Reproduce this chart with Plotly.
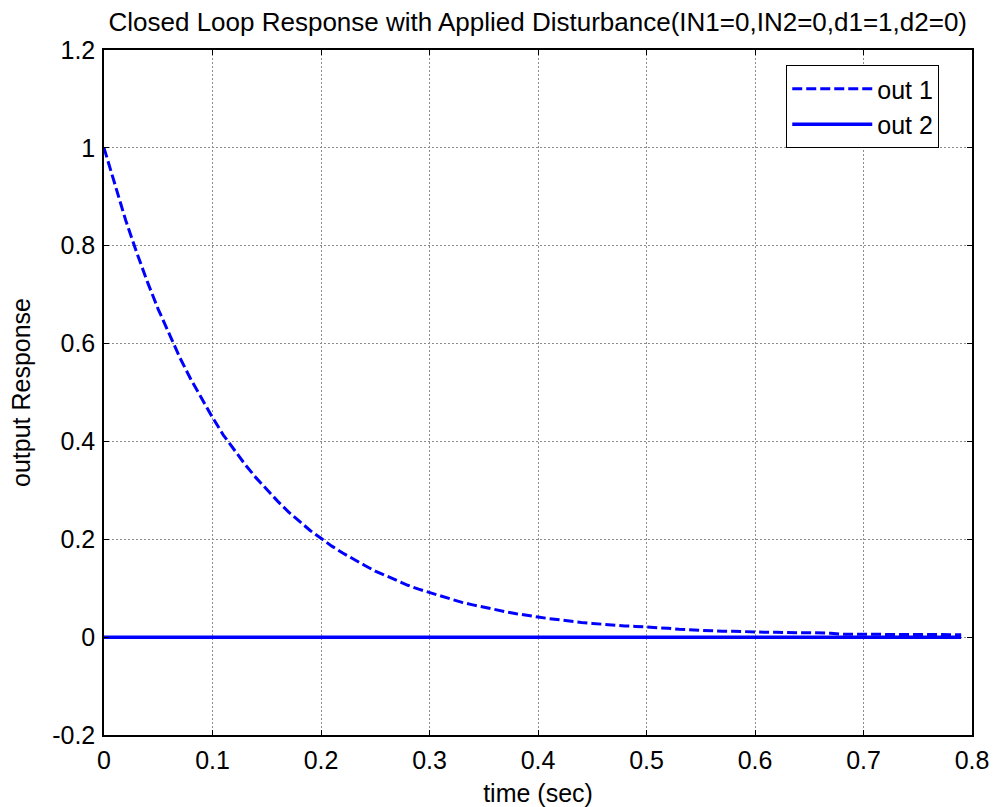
import plotly.graph_objects as go

# Simulation time (s) and closed-loop outputs after a unit disturbance on d1
time_s = [round(0.01 * i, 2) for i in range(80)]
out1 = [
    1.000, 0.925, 0.852, 0.787, 0.726, 0.670, 0.619, 0.571, 0.527, 0.487,
    0.449, 0.413, 0.383, 0.353, 0.326, 0.301, 0.278, 0.256, 0.237, 0.218,
    0.202, 0.186, 0.172, 0.159, 0.147, 0.135, 0.125, 0.115, 0.106, 0.098,
    0.091, 0.084, 0.077, 0.071, 0.066, 0.061, 0.056, 0.052, 0.048, 0.044,
    0.041, 0.038, 0.035, 0.032, 0.030, 0.028, 0.026, 0.024, 0.023, 0.022,
    0.021, 0.020, 0.018, 0.016, 0.015, 0.013, 0.012, 0.012, 0.012, 0.011,
    0.010, 0.010, 0.010, 0.009, 0.009, 0.009, 0.009, 0.008, 0.006, 0.006,
    0.006, 0.006, 0.005, 0.005, 0.005, 0.005, 0.005, 0.005, 0.005, 0.005,
]
out2 = [0.0] * len(time_s)

x_ticks = [0, 0.1, 0.2, 0.3, 0.4, 0.5, 0.6, 0.7, 0.8]
x_labels = ["0", "0.1", "0.2", "0.3", "0.4", "0.5", "0.6", "0.7", "0.8"]
y_ticks = [-0.2, 0, 0.2, 0.4, 0.6, 0.8, 1.0, 1.2]
y_labels = ["-0.2", "0", "0.2", "0.4", "0.6", "0.8", "1", "1.2"]

FONT = "Liberation Sans, Arial, sans-serif"
BLUE = "#0000ff"

fig = go.Figure()
fig.add_trace(go.Scatter(
    x=time_s, y=out1, mode="lines", name="out 1",
    line=dict(color=BLUE, width=3, dash="10px,4px"),
))
fig.add_trace(go.Scatter(
    x=time_s, y=out2, mode="lines", name="out 2",
    line=dict(color=BLUE, width=3.5),
))

axis_common = dict(
    showline=True, linecolor="black", linewidth=1.5, mirror="allticks",
    ticks="inside", ticklen=5, tickwidth=1, tickcolor="black",
    showgrid=True, gridcolor="#8c8c8c", gridwidth=1, griddash="2px,2px",
    zeroline=False, automargin=False,
    tickfont=dict(family=FONT, size=25, color="black"),
)

fig.update_xaxes(
    range=[0, 0.8], tickvals=x_ticks, ticktext=x_labels,
    title=dict(text="time (sec)", font=dict(family=FONT, size=25, color="black"), standoff=12),
    ticklabelstandoff=2,
    **axis_common,
)
fig.update_yaxes(
    range=[-0.2, 1.2], tickvals=y_ticks, ticktext=y_labels,
    title=dict(text="output Response", font=dict(family=FONT, size=25, color="black"), standoff=14),
    ticklabelstandoff=2,
    **axis_common,
)

fig.update_layout(
    width=994, height=807,
    margin=dict(l=104, r=22, t=50, b=72),
    paper_bgcolor="white", plot_bgcolor="white",
    title=dict(
        text="Closed Loop Response with Applied Disturbance(IN1=0,IN2=0,d1=1,d2=0)",
        font=dict(family=FONT, size=26, color="black"),
        x=0.541, xanchor="center", y=0.973, yanchor="middle",
    ),
    legend=dict(
        x=0.786, y=0.978, xanchor="left", yanchor="top",
        bgcolor="white", bordercolor="black", borderwidth=1,
        font=dict(family=FONT, size=25, color="black"),
        tracegroupgap=0, itemwidth=80, entrywidth=80, entrywidthmode="pixels",
    ),
    showlegend=True,
)

fig.write_html("out.html")
